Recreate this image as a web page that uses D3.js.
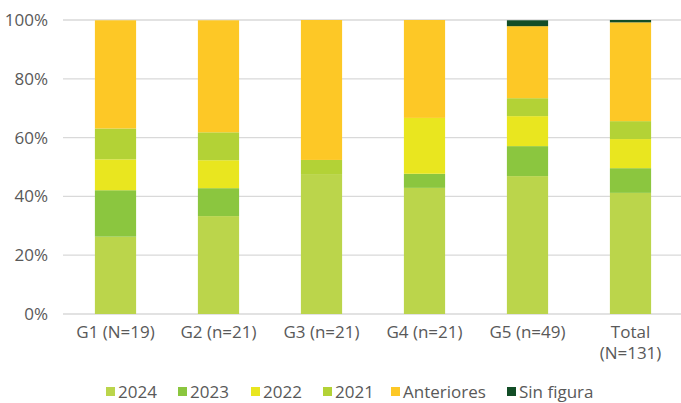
<!DOCTYPE html>
<html lang="es">
<head>
<meta charset="UTF-8">
<title>Chart</title>
<style>
  body { margin: 0; background: #fff; }
  svg text { font-family: "Open Sans", sans-serif; fill: #595959; }
</style>
</head>
<body>
<svg id="chart" width="681" height="403"></svg>
<script src="https://cdn.jsdelivr.net/npm/d3@7"></script>
<script>
// categories (each label may wrap on "\n")
const categories = ["G1 (N=19)", "G2 (n=21)", "G3 (n=21)", "G4 (n=21)", "G5 (n=49)", "Total\n(N=131)"];
const seriesNames = ["2024", "2023", "2022", "2021", "Anteriores", "Sin figura"];
const seriesColors = ["#bbd54b", "#8bc63f", "#e9e61f", "#b3d236", "#fdc826", "#124d26"];

// percentages per category
const s2024 = [26.3, 33.3, 47.6, 42.9, 46.9, 41.2];
const s2023 = [15.8, 9.5, 0, 4.8, 10.2, 8.4];
const s2022 = [10.5, 9.5, 0, 19.0, 10.2, 9.9];
const s2021 = [10.5, 9.5, 4.8, 0, 6.1, 6.1];
const sAnteriores = [36.8, 38.1, 47.6, 33.3, 24.5, 33.6];
const sSinFigura = [0, 0, 0, 0, 2.0, 0.8];
const yTicks = [0, 20, 40, 60, 80, 100];

const allSeries = [s2024, s2023, s2022, s2021, sAnteriores, sSinFigura];
const rows = categories.map((c, i) => {
  const r = { cat: c };
  seriesNames.forEach((s, j) => r[s] = allSeries[j][i]);
  return r;
});

const svg = d3.select("#chart");
const width = 681, height = 403;
const plotTop = 20, plotBottom = 314, gridLeft = 63;

const x = d3.scaleBand()
  .domain(categories)
  .range([64, 682])
  .paddingInner(0.6)
  .paddingOuter(0.3);

const y = d3.scaleLinear()
  .domain([0, 100])
  .range([plotBottom, plotTop]);

// gridlines
svg.append("g")
  .selectAll("line")
  .data(yTicks)
  .join("line")
  .attr("x1", gridLeft)
  .attr("x2", width)
  .attr("y1", d => y(d))
  .attr("y2", d => y(d))
  .attr("stroke", "#d9d9d9")
  .attr("stroke-width", 1.3);

// y labels
svg.append("g")
  .selectAll("text")
  .data(yTicks)
  .join("text")
  .attr("x", 48)
  .attr("y", d => y(d))
  .attr("dy", "0.35em")
  .attr("text-anchor", "end")
  .style("font-size", "17px")
  .text(d => d + "%");

// stacked bars
const stack = d3.stack().keys(seriesNames);
const layers = stack(rows);

svg.append("g")
  .selectAll("g")
  .data(layers)
  .join("g")
  .attr("fill", (d, i) => seriesColors[i])
  .selectAll("rect")
  .data(d => d)
  .join("rect")
  .attr("x", d => x(d.data.cat))
  .attr("width", x.bandwidth())
  .attr("y", d => y(d[1]))
  .attr("height", d => y(d[0]) - y(d[1]));

// x labels
const xl = svg.append("g")
  .selectAll("text")
  .data(categories)
  .join("text")
  .attr("text-anchor", "middle")
  .attr("transform", d => "translate(" + (x(d) + x.bandwidth() / 2) + "," + 338 + ")")
  .style("font-size", "17px");
xl.selectAll("tspan")
  .data(d => d.split("\n"))
  .join("tspan")
  .attr("x", 0)
  .attr("dy", (d, i) => i === 0 ? 0 : 21)
  .text(d => d);

// legend
const legendX = [106, 178, 251, 323, 391, 507];
const lg = svg.append("g")
  .selectAll("g")
  .data(seriesNames)
  .join("g")
  .attr("transform", (d, i) => "translate(" + legendX[i] + ",386)");
lg.append("rect")
  .attr("width", 9)
  .attr("height", 9)
  .attr("y", 1)
  .attr("fill", (d, i) => seriesColors[i]);
lg.append("text")
  .attr("x", 12)
  .attr("y", 11.5)
  .style("font-size", "17px")
  .text(d => d);
</script>
</body>
</html>
